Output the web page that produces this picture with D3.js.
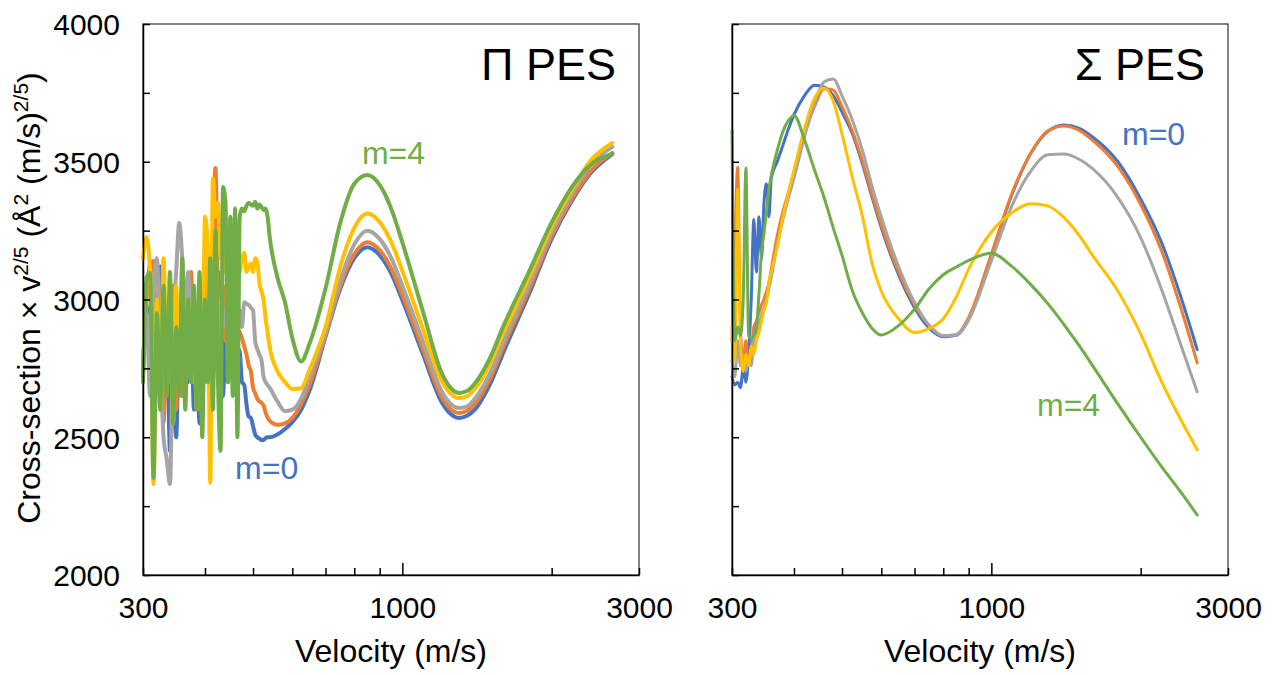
<!DOCTYPE html>
<html>
<head>
<meta charset="utf-8">
<script src="https://cdnjs.cloudflare.com/ajax/libs/d3/7.8.5/d3.min.js"></script>
<style>
    body { margin: 0; background: #fff; }
    svg { font-family: "Liberation Sans", Arial, sans-serif; }
</style>
</head>
<body>
<svg id="chart" width="1272" height="675"></svg>
<script>
'use strict';

// series colours, m = 0..4
const colors = ['#4472C4', '#ED7D31', '#A5A5A5', '#FFC000', '#70AD47'];

const yTicks = [2000, 2250, 2500, 2750, 3000, 3250, 3500, 3750, 4000];
const yLabels = [2000, 2500, 3000, 3500, 4000];
const xTicks = [300, 400, 500, 600, 700, 800, 900, 1000, 2000, 3000];
const xLabels = [300, 1000, 3000];

// ---- Pi PES ----
const piVel = [
    300, 305, 310, 315, 320, 325, 330, 335,
    340, 345, 350, 355, 360, 365, 370, 375,
    380, 385, 390, 395, 400, 405, 410, 415,
    420, 425, 430, 435, 440, 445, 450, 455,
    460, 465, 470, 475, 480, 485, 490, 495,
    500, 505, 510, 515, 520, 525, 530, 535,
    540, 560, 580, 600, 625, 650, 700, 750, 800, 850, 900, 950, 1000,
    1100, 1200, 1250, 1300, 1350, 1400, 1500, 1600, 1800, 2000, 2200, 2400, 2650
];
const piM0 = [
    2720, 2980, 2750, 3050, 2820, 3120, 2600, 2950,
    2450, 2700, 2500, 2900, 2650, 3000, 2700, 2950,
    2600, 2850, 2550, 2900, 2700, 3000, 2650, 3050,
    2800, 3100, 2750, 2650, 2900, 2700, 2850, 2750,
    2800, 2820, 2810, 2700, 2690, 2620, 2575, 2570,
    2540, 2510, 2500, 2495, 2490, 2490, 2497, 2500,
    2500, 2510, 2530, 2555, 2600, 2670, 2865, 3040, 3150, 3190, 3161, 3094, 2998,
    2802, 2628, 2585, 2570, 2578, 2600, 2690, 2810, 3020, 3220, 3360, 3460, 3528
];
const piM1 = [
    2760, 3000, 3130, 3140, 2700, 3000, 2550, 2900,
    2700, 3050, 2600, 2950, 2650, 3050, 2750, 3100,
    2700, 2950, 2600, 3000, 2700, 3150, 2800, 3250,
    3477, 3000, 2800, 3050, 2850, 3000, 2950, 2900,
    2950, 2900, 2880, 2860, 2830, 2800, 2760, 2740,
    2680, 2660, 2640, 2630, 2625, 2615, 2590, 2570,
    2560, 2545, 2550, 2570, 2620, 2690, 2870, 3050, 3165, 3208, 3179, 3112, 3016,
    2820, 2646, 2603, 2588, 2596, 2620, 2710, 2830, 3035, 3230, 3368, 3467, 3532
];
const piM2 = [
    2750, 2950, 2650, 3000, 3150, 2800, 2500, 2420,
    2330, 2900, 3100, 3278, 3150, 2950, 3100, 2850,
    3000, 2700, 3050, 2850, 2950, 2750, 2900, 2700,
    2950, 2800, 3000, 2900, 2950, 3000, 2980, 2960,
    2940, 2920, 2960, 2900, 2990, 2985, 2980, 2970,
    2960, 2850, 2820, 2800, 2780, 2720, 2700, 2690,
    2680, 2630, 2595, 2600, 2640, 2720, 2880, 3070, 3200, 3250, 3220, 3150, 3050,
    2848, 2667, 2622, 2606, 2612, 2640, 2730, 2850, 3055, 3245, 3385, 3490, 3554
];
const piM3 = [
    3150, 3227, 3100, 2330, 3000, 2600, 3150, 2750,
    2950, 2550, 3050, 2700, 3100, 2800, 3000, 2700,
    2950, 2600, 2900, 2700, 3300, 3200, 2334, 3440,
    3300, 3350, 3150, 3250, 3100, 3200, 3100, 3200,
    3150, 3200, 3100, 3150, 3170, 3100, 3120, 3130,
    3100, 3150, 3140, 3060, 3030, 3000, 2930, 2880,
    2830, 2740, 2700, 2675, 2678, 2745, 2900, 3120, 3260, 3312, 3281, 3208, 3104,
    2893, 2705, 2659, 2642, 2648, 2675, 2765, 2880, 3080, 3265, 3400, 3505, 3568
];
const piM4 = [
    2700, 3080, 3096, 2352, 2950, 2600, 3050, 2650,
    3100, 2550, 2900, 2650, 3150, 2600, 3000, 2700,
    3050, 2600, 3100, 2500, 3000, 2700, 3150, 2600,
    3250, 2700, 2450, 3408, 3350, 2700, 3300, 2650,
    3330, 2500, 3300, 3330, 3320, 3340, 3350, 3345,
    3340, 3355, 3330, 3345, 3335, 3325, 3330, 3300,
    3230, 3080, 2990, 2860, 2775, 2840, 3040, 3280, 3420, 3452, 3416, 3329, 3207,
    2957, 2734, 2680, 2661, 2668, 2695, 2785, 2905, 3100, 3280, 3410, 3490, 3528
];

// ---- Sigma PES ----
const sigVel = [
    300, 304, 308, 312, 316, 320, 324, 328,
    332, 336, 340, 344, 348, 352, 356, 360,
    370, 380, 390, 400, 420, 440, 460, 480, 500, 525, 550, 575, 600,
    650, 700, 750, 800, 850, 900, 1000, 1100, 1200, 1300, 1400, 1500,
    1600, 1800, 2000, 2200, 2400, 2600
];
const sigM0 = [
    2720, 2690, 2700, 2680, 2750, 2700, 2800, 3000,
    3290, 3100, 3300, 3150, 3350, 3420, 3300, 3440,
    3500, 3560, 3620, 3670, 3740, 3778, 3772, 3740, 3680, 3600, 3490, 3370, 3260,
    3090, 2970, 2895, 2865, 2870, 2930, 3160, 3380, 3530, 3610, 3633, 3622,
    3590, 3500, 3365, 3210, 3020, 2818
];
const sigM1 = [
    2850, 3200, 3480, 2900, 2780, 2850, 2760, 2800,
    2900, 2920, 2950, 2980, 3000, 3030, 3060, 3110,
    3230, 3320, 3390, 3460, 3600, 3700, 3765, 3760, 3700, 3610, 3500, 3380, 3270,
    3100, 2980, 2905, 2868, 2872, 2935, 3165, 3385, 3530, 3612, 3630, 3615,
    3578, 3482, 3345, 3180, 2980, 2770
];
const sigM2 = [
    2780, 2720, 2850, 2760, 2800, 2740, 2790, 2760,
    2850, 2880, 2910, 2940, 2970, 3000, 3040, 3080,
    3200, 3290, 3370, 3440, 3590, 3710, 3790, 3800, 3740, 3650, 3540, 3410, 3300,
    3120, 2990, 2905, 2868, 2872, 2925, 3140, 3340, 3465, 3525, 3528, 3510,
    3475, 3370, 3225, 3040, 2845, 2665
];
const sigM3 = [
    2900, 2780, 3400, 2850, 2740, 2800, 2760, 2830,
    2800, 2850, 2880, 2920, 2960, 2990, 3060, 3100,
    3190, 3300, 3390, 3470, 3620, 3730, 3768, 3720, 3600, 3440, 3300, 3130, 3030,
    2930, 2880, 2895, 2930, 3010, 3110, 3245, 3315, 3348, 3340, 3298, 3235,
    3160, 3030, 2875, 2705, 2570, 2455
];
const sigM4 = [
    3615, 2850, 2900, 2870, 3000, 3477, 2870, 2860,
    2870, 2900, 3020, 3170, 3240, 3320, 3400, 3450,
    3540, 3610, 3650, 3668, 3580, 3470, 3370, 3260, 3160, 3030, 2950, 2895, 2871,
    2905, 2965, 3040, 3090, 3118, 3142, 3168, 3120, 3055, 2985, 2910, 2835,
    2760, 2620, 2500, 2395, 2305, 2218
];

const svg = d3.select('#chart');
const plotTop = 24, plotBottom = 575;

// draws one panel with its box, axes and lines
function drawPanel(opts) {
    var x = d3.scaleLog().domain([300, 3000]).range([opts.left, opts.right]);
    var y = d3.scaleLinear().domain([2000, 4000]).range([plotBottom, plotTop]);
    var g = svg.append('g');

    g.append('rect')
        .attr('x', opts.left).attr('y', plotTop)
        .attr('width', opts.right - opts.left).attr('height', plotBottom - plotTop)
        .attr('fill', 'none').attr('stroke', '#404040').attr('stroke-width', 1.3);

    // lines first so the axes sit on top
    var line = d3.line()
        .x(function (d) { return x(d.v); })
        .y(function (d) { return y(d.c); })
        .curve(d3.curveMonotoneX);

    opts.series.forEach(function (s, i) {
        var pts = opts.vel.map(function (v, k) { return {v: v, c: s[k]}; });
        g.append('path')
            .datum(pts)
            .attr('d', line)
            .attr('fill', 'none')
            .attr('stroke', colors[i])
            .attr('stroke-width', opts.lineWidth)
            .attr('stroke-linejoin', 'round')
            .attr('stroke-linecap', 'round');
    });

    var xAxis = g.append('g')
        .attr('transform', 'translate(0,' + plotBottom + ')')
        .call(d3.axisBottom(x).tickValues(xTicks).tickSize(-7).tickSizeOuter(0)
            .tickFormat(function (d) { return xLabels.indexOf(d) >= 0 ? d : ''; }));
    xAxis.selectAll('.tick line')
        .attr('y2', function (d) { return d === 1000 ? -12 : -7; })
        .attr('stroke', '#000').attr('stroke-width', 1.5);
    xAxis.selectAll('.tick text')
        .attr('y', 43).attr('dy', null)
        .attr('font-size', 30).attr('font-family', null).attr('fill', '#000');
    xAxis.select('.domain').attr('stroke', '#000').attr('stroke-width', 1.5);

    var yAxis = g.append('g')
        .attr('transform', 'translate(' + opts.left + ',0)')
        .call(d3.axisLeft(y).tickValues(yTicks).tickSize(-7).tickSizeOuter(0)
            .tickFormat(function (d) { return opts.yText && yLabels.indexOf(d) >= 0 ? d : ''; }));
    yAxis.selectAll('.tick line').attr('stroke', '#000').attr('stroke-width', 1.5);
    yAxis.selectAll('.tick text')
        .attr('x', -23).attr('dy', '0.36em')
        .attr('font-size', 30).attr('font-family', null).attr('fill', '#000');
    yAxis.select('.domain').attr('stroke', '#000').attr('stroke-width', 1.5);

    g.append('text')
        .attr('x', opts.right - 23).attr('y', 80)
        .attr('text-anchor', 'end')
        .attr('font-size', 45)
        .text(opts.title);

    g.append('text')
        .attr('x', (opts.left + opts.right) / 2).attr('y', 662)
        .attr('text-anchor', 'middle')
        .attr('font-size', 32)
        .text('Velocity (m/s)');

    opts.notes.forEach(function (n) {
        g.append('text')
            .attr('x', x(n.v)).attr('y', y(n.c))
            .attr('fill', n.color)
            .attr('font-size', 32)
            .text(n.text);
    });
}

drawPanel({
    left: 143, right: 639, title: '\u03A0 PES', yText: true, lineWidth: 4,
    vel: piVel, series: [piM0, piM1, piM2, piM3, piM4],
    notes: [
        {text: 'm=4', v: 829, c: 3492, color: colors[4]},
        {text: 'm=0', v: 460, c: 2348, color: colors[0]}
    ]
});

drawPanel({
    left: 732, right: 1228, title: '\u03A3 PES', yText: false, lineWidth: 3,
    vel: sigVel, series: [sigM0, sigM1, sigM2, sigM3, sigM4],
    notes: [
        {text: 'm=0', v: 1834, c: 3561, color: colors[0]},
        {text: 'm=4', v: 1236, c: 2577, color: colors[4]}
    ]
});

// y title with superscripts
var yt = svg.append('text')
    .attr('transform', 'translate(40,298) rotate(-90)')
    .attr('text-anchor', 'middle')
    .attr('font-size', 32);
yt.append('tspan').text('Cross-section \u00D7 v');
yt.append('tspan').attr('dy', -12).attr('font-size', 21).text('2/5');
yt.append('tspan').attr('dy', 12).text(' (\u00C5');
yt.append('tspan').attr('dy', -12).attr('font-size', 21).text('2');
yt.append('tspan').attr('dy', 12).text(' (m/s)');
yt.append('tspan').attr('dy', -12).attr('font-size', 21).text('2/5');
yt.append('tspan').attr('dy', 12).text(')');
</script>
</body>
</html>
